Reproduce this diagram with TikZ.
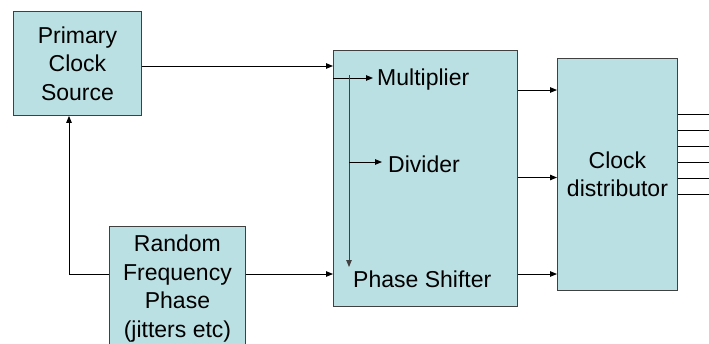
\documentclass[tikz,border=0pt]{standalone}
\usepackage{fontspec}
\setmainfont{Liberation Sans}
\usetikzlibrary{arrows.meta}
\definecolor{boxfill}{HTML}{BBE0E3}
\definecolor{boxline}{HTML}{404040}
\tikzset{
  block/.style={draw=boxline, line width=0.9pt, fill=boxfill, anchor=north west,
    inner sep=0pt, align=center,
    font=\fontsize{23}{28.5}\selectfont},
  label/.style={inner sep=0pt, anchor=base west, font=\fontsize{23}{28.5}\selectfont},
  wire/.style={line width=0.9pt, -{Triangle[length=7pt,width=5.5pt]}},
  plain/.style={line width=0.9pt},
}
\begin{document}
\begin{tikzpicture}[x=1pt,y=-1pt]
\useasboundingbox (0,0) rectangle (709,343);
% main blocks
\node[block, minimum width=128pt, minimum height=104pt] (pcs) at (13,11) {Primary\\Clock\\Source};
\node[block, minimum width=136pt, minimum height=124pt] (rnd) at (109,226) {Random\\Frequency\\Phase\\(jitters etc)};
\node[block, minimum width=184pt, minimum height=256pt] (mid) at (333,50) {};
\node[block, minimum width=120pt, minimum height=232pt] (dist) at (557,58) {Clock\\distributor};
% labels inside the processing block
\node[label] (mul) at (377,85.5) {Multiplier};
\node[label] (div) at (388,172) {Divider};
\node[label] (phs) at (353,287) {Phase Shifter};
% internal branching
\coordinate (hin) at (mid.west |- 0,78);
\coordinate (vtop) at (349,75);
\coordinate (vbot) at (349,267);
\coordinate (vdiv) at (349,162);
\draw[wire] (hin) -- ([xshift=-4pt]mul.west |- hin);
\draw[wire, draw=boxline] (vtop) -- (vbot);
\draw[wire] (vdiv) -- ([xshift=-6pt]div.west |- vdiv);
% external connectors
\draw[wire] (pcs.east |- 0,66) -- (mid.west |- 0,66);
\draw[wire] (rnd.east |- 0,274) -- (mid.west |- 0,274);
\draw[wire] (rnd.west |- 0,274) -| (pcs.south -| 69,0);
\foreach \y in {90,177.5,274}
  \draw[wire] (mid.east |- 0,\y) -- (dist.west |- 0,\y);
% distributor outputs
\foreach \y in {114,130,146,162,178,194}
  \draw[plain] (dist.east |- 0,\y) -- (709,\y);
\end{tikzpicture}
\end{document}
